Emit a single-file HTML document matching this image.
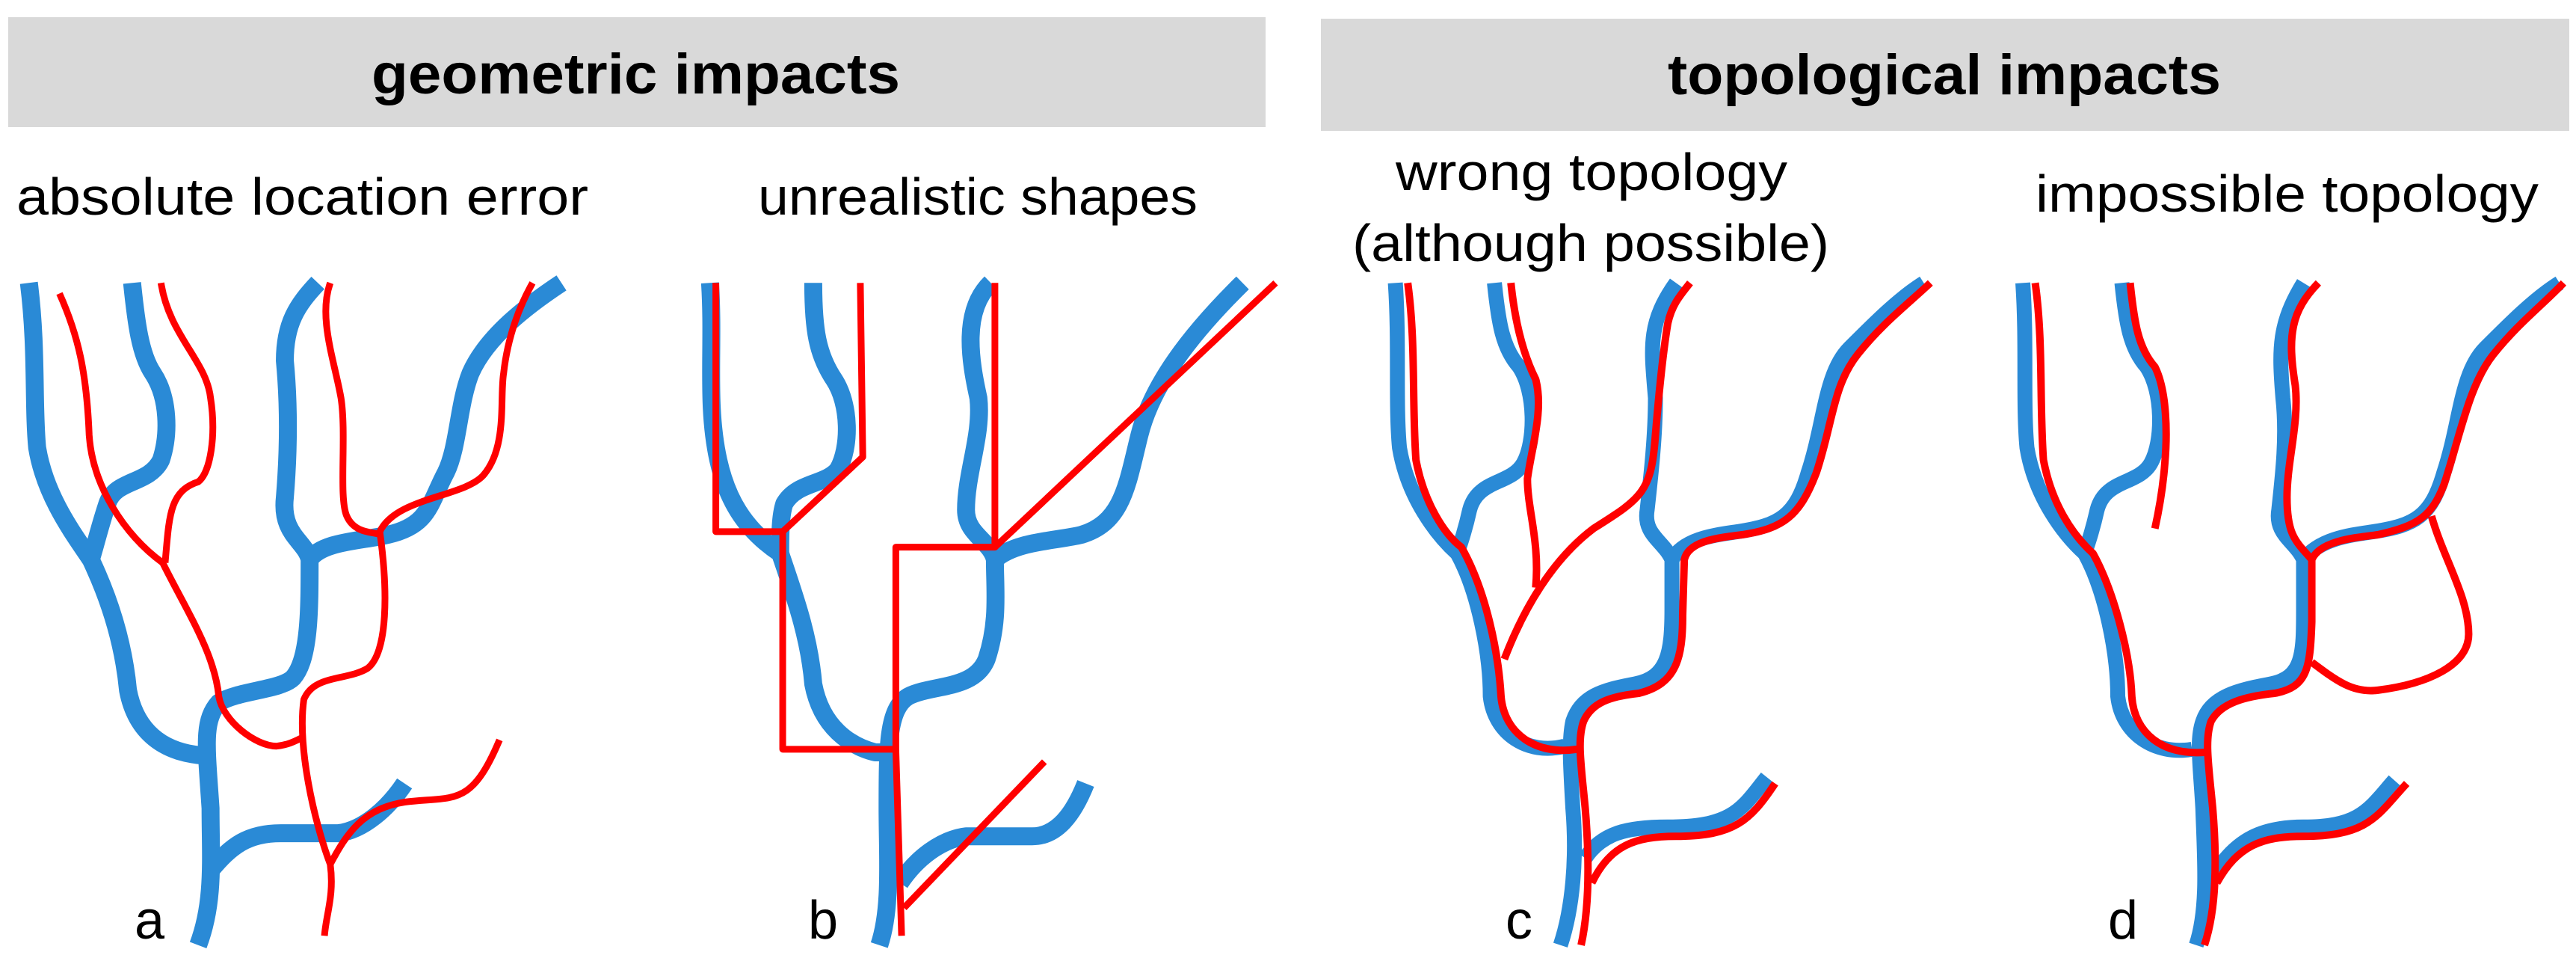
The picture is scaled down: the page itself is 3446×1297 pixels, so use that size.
<!DOCTYPE html>
<html><head><meta charset="utf-8"><style>
html,body{margin:0;padding:0;background:#fff;}
body{width:3446px;height:1297px;position:relative;overflow:hidden;}
svg{position:absolute;top:0;}
.b{fill:none;stroke:#2a8ad6;stroke-width:24;stroke-linecap:butt;stroke-linejoin:round;}
.r{fill:none;stroke:#ff0000;stroke-width:9;stroke-linecap:butt;stroke-linejoin:round;}
.bc{fill:none;stroke:#2a8ad6;stroke-width:20;stroke-linejoin:round;}
.rc{fill:none;stroke:#ff0000;stroke-width:10;stroke-linejoin:round;}
text{font-family:"Liberation Sans",sans-serif;fill:#000;}
</style></head><body>
<svg style="left:0" width="1723" height="1297" viewBox="0 0 1560 1560" preserveAspectRatio="none">
<g vector-effect="non-scaling-stroke">
<path class="b" vector-effect="non-scaling-stroke" d="M35,455 C45,560 40,650 45,720 C55,800 90,860 110,900 C135,970 150,1040 155,1110 C165,1180 200,1210 245,1215"/>
<path class="b" vector-effect="non-scaling-stroke" d="M160,455 C165,520 170,570 185,600 C205,640 205,700 195,740 C180,780 140,770 130,810 C120,850 115,880 110,900"/>
<path class="b" vector-effect="non-scaling-stroke" d="M240,1520 C260,1450 255,1380 255,1300 C250,1200 245,1160 265,1130 C290,1110 340,1110 355,1090 C375,1060 375,980 375,900 C370,870 340,860 345,800 C350,720 350,650 345,580 C345,520 360,490 385,455"/>
<path class="b" vector-effect="non-scaling-stroke" d="M375,900 C390,870 440,870 470,860 C520,845 520,810 540,760 C555,720 555,650 570,600 C590,540 640,490 680,455"/>
<path class="b" vector-effect="non-scaling-stroke" d="M255,1400 C280,1360 300,1340 340,1340 L410,1340 C440,1335 470,1300 490,1260"/>
<path class="r" vector-effect="non-scaling-stroke" d="M72,472 C95,540 105,600 108,700 C112,780 150,860 197,905 C225,980 260,1050 265,1120 C270,1160 310,1200 335,1200 C350,1198 360,1190 368,1185"/>
<path class="r" vector-effect="non-scaling-stroke" d="M195,455 C205,540 250,580 255,640 C262,700 255,760 240,775 C205,790 205,830 200,905"/>
<path class="r" vector-effect="non-scaling-stroke" d="M400,455 C385,510 405,580 413,640 C420,700 410,800 420,830 C430,860 455,855 460,860"/>
<path class="r" vector-effect="non-scaling-stroke" d="M460,855 C470,950 470,1050 445,1075 C420,1095 380,1085 368,1125 C360,1200 380,1320 400,1390 C405,1440 395,1470 393,1505"/>
<path class="r" vector-effect="non-scaling-stroke" d="M460,855 C480,800 560,800 585,765 C615,720 605,640 610,600 C615,540 630,490 645,455"/>
<path class="r" vector-effect="non-scaling-stroke" d="M400,1390 C420,1340 440,1300 490,1290 C550,1280 570,1300 605,1190"/>

<path class="b" vector-effect="non-scaling-stroke" d="M860,455 C865,560 855,650 870,740 C880,800 900,850 945,890 C960,950 980,1020 985,1100 C995,1170 1030,1200 1060,1210 L1080,1210"/>
<path class="b" vector-effect="non-scaling-stroke" d="M985,455 C985,530 990,570 1010,610 C1030,650 1030,720 1015,755 C1000,780 965,775 950,810 C945,830 945,860 945,890"/>
<path class="b" vector-effect="non-scaling-stroke" d="M1065,1520 C1080,1460 1075,1380 1075,1300 C1075,1200 1075,1140 1100,1120 C1130,1100 1180,1110 1195,1060 C1210,1000 1205,950 1205,900 C1200,870 1170,860 1170,820 C1170,760 1190,700 1185,640 C1175,580 1165,500 1200,455"/>
<path class="b" vector-effect="non-scaling-stroke" d="M1205,900 C1230,870 1280,870 1310,860 C1360,840 1365,780 1380,700 C1395,620 1440,540 1505,455"/>
<path class="b" vector-effect="non-scaling-stroke" d="M1090,1420 C1110,1380 1140,1350 1170,1345 L1250,1345 C1280,1345 1300,1310 1315,1260"/>
<path class="r" vector-effect="non-scaling-stroke" d="M867,455 L867,855 L948,855 L1045,735 L1042,455"/>
<path class="r" vector-effect="non-scaling-stroke" d="M948,855 L948,1205 L1085,1205"/>
<path class="r" vector-effect="non-scaling-stroke" d="M1205,455 L1205,880 L1085,880 L1085,1205 L1092,1505"/>
<path class="r" vector-effect="non-scaling-stroke" d="M1205,880 L1545,455"/>
<path class="r" vector-effect="non-scaling-stroke" d="M1095,1460 L1265,1225"/>
</g>
</svg>
<svg style="left:1723px" width="1723" height="1297" viewBox="0 0 1560 1560" preserveAspectRatio="none">
<path class="bc" vector-effect="non-scaling-stroke" d="M130,455 C135,550 130,650 135,720 C145,800 180,860 205,890 C230,950 245,1050 245,1120 C250,1180 290,1215 335,1200"/>
<path class="bc" vector-effect="non-scaling-stroke" d="M250,455 C255,520 260,560 280,590 C300,630 300,710 285,745 C270,780 230,770 220,820 C215,850 210,870 205,890"/>
<path class="bc" vector-effect="non-scaling-stroke" d="M330,1520 C345,1460 350,1380 345,1300 C342,1230 340,1190 345,1160 C355,1120 380,1110 420,1100 C460,1090 465,1050 465,980 L465,900 C455,870 430,860 435,820 C440,760 445,700 445,640 C440,560 435,520 470,455"/>
<path class="bc" vector-effect="non-scaling-stroke" d="M465,900 C480,865 520,860 545,855 C595,845 615,830 630,760 C650,680 650,600 680,560 C710,520 740,480 770,455"/>
<path class="bc" vector-effect="non-scaling-stroke" d="M360,1380 C380,1340 410,1330 460,1330 C540,1330 550,1300 580,1250"/>
<path class="rc" vector-effect="non-scaling-stroke" d="M145,455 C155,550 150,650 155,740 C165,810 190,860 210,880 C240,950 255,1050 258,1120 C262,1180 300,1215 350,1205"/>
<path class="rc" vector-effect="non-scaling-stroke" d="M270,455 C275,520 285,570 300,610 C310,660 295,720 290,770 C290,820 305,870 300,945"/>
<path class="rc" vector-effect="non-scaling-stroke" d="M262,1060 C285,980 320,900 370,850 C430,800 440,790 445,700 C450,620 455,560 460,520 C465,490 475,475 487,455"/>
<path class="rc" vector-effect="non-scaling-stroke" d="M355,1520 C365,1460 365,1380 360,1300 C355,1230 350,1190 358,1160 C368,1130 390,1120 425,1115 C470,1100 478,1060 478,990 L480,900 C485,870 520,865 550,860 C600,850 620,830 640,760 C660,680 660,620 690,570 C720,520 750,490 778,455"/>
<path class="rc" vector-effect="non-scaling-stroke" d="M368,1420 C390,1360 420,1345 470,1345 C540,1345 560,1320 590,1260"/>

<path class="bc" vector-effect="non-scaling-stroke" d="M890,455 C895,550 890,650 895,720 C905,800 940,860 965,890 C990,950 1005,1050 1005,1120 C1010,1180 1050,1215 1095,1205"/>
<path class="bc" vector-effect="non-scaling-stroke" d="M1010,455 C1015,520 1020,560 1040,590 C1060,630 1060,710 1045,745 C1030,780 990,770 980,820 C975,850 970,870 965,890"/>
<path class="bc" vector-effect="non-scaling-stroke" d="M1100,1520 C1115,1460 1110,1380 1108,1300 C1105,1230 1100,1190 1108,1160 C1118,1120 1150,1110 1190,1100 C1230,1090 1230,1050 1230,980 L1230,900 C1220,870 1195,860 1200,820 C1205,760 1210,700 1205,640 C1200,560 1200,520 1230,455"/>
<path class="bc" vector-effect="non-scaling-stroke" d="M1230,900 C1250,865 1290,860 1315,855 C1365,845 1385,830 1400,760 C1420,680 1420,600 1450,560 C1480,520 1510,480 1540,455"/>
<path class="bc" vector-effect="non-scaling-stroke" d="M1125,1400 C1150,1350 1180,1330 1230,1330 C1300,1330 1310,1300 1340,1255"/>
<path class="rc" vector-effect="non-scaling-stroke" d="M905,455 C915,550 910,650 915,740 C925,810 950,860 975,890 C1000,950 1020,1050 1022,1120 C1025,1180 1060,1215 1110,1210"/>
<path class="rc" vector-effect="non-scaling-stroke" d="M1020,455 C1025,520 1030,560 1050,590 C1065,630 1065,700 1062,745 C1060,780 1055,820 1050,850"/>
<path class="rc" vector-effect="non-scaling-stroke" d="M1110,1520 C1125,1460 1125,1380 1120,1300 C1115,1230 1110,1190 1118,1160 C1130,1130 1160,1120 1195,1115 C1235,1105 1238,1075 1240,1000 L1240,900 C1220,870 1210,860 1210,800 C1210,740 1225,680 1220,620 C1210,540 1215,500 1248,455"/>
<path class="rc" vector-effect="non-scaling-stroke" d="M1240,900 C1250,870 1290,865 1320,860 C1370,845 1385,830 1400,780 C1420,700 1430,620 1460,570 C1490,520 1520,490 1545,455"/>
<path class="rc" vector-effect="non-scaling-stroke" d="M1385,830 C1400,900 1430,960 1430,1020 C1430,1070 1380,1100 1320,1110 C1290,1115 1270,1095 1240,1065"/>
<path class="rc" vector-effect="non-scaling-stroke" d="M1125,1420 C1150,1360 1180,1345 1230,1345 C1310,1345 1320,1310 1355,1260"/>
</svg>
<svg style="left:0" width="3446" height="1297" viewBox="0 0 3446 1297">
<rect x="11" y="23" width="1682" height="147" fill="#d9d9d9"/>
<rect x="1767" y="25" width="1670" height="150" fill="#d9d9d9"/>
<text x="497" y="125" font-size="76" font-weight="bold" textLength="707" lengthAdjust="spacingAndGlyphs">geometric impacts</text>
<text x="2231" y="126" font-size="76" font-weight="bold" textLength="740" lengthAdjust="spacingAndGlyphs">topological impacts</text>
<text x="22" y="287" font-size="70" textLength="765" lengthAdjust="spacingAndGlyphs">absolute location error</text>
<text x="1014" y="287" font-size="70" textLength="588" lengthAdjust="spacingAndGlyphs">unrealistic shapes</text>
<text x="1867" y="254" font-size="70" textLength="524" lengthAdjust="spacingAndGlyphs">wrong topology</text>
<text x="1809" y="349" font-size="70" textLength="638" lengthAdjust="spacingAndGlyphs">(although possible)</text>
<text x="2723" y="283" font-size="70" textLength="673" lengthAdjust="spacingAndGlyphs">impossible topology</text>
<text x="180" y="1255" font-size="72">a</text>
<text x="1081" y="1255" font-size="72">b</text>
<text x="2014" y="1255" font-size="72">c</text>
<text x="2820" y="1255" font-size="72">d</text>
</svg>
</body></html>
